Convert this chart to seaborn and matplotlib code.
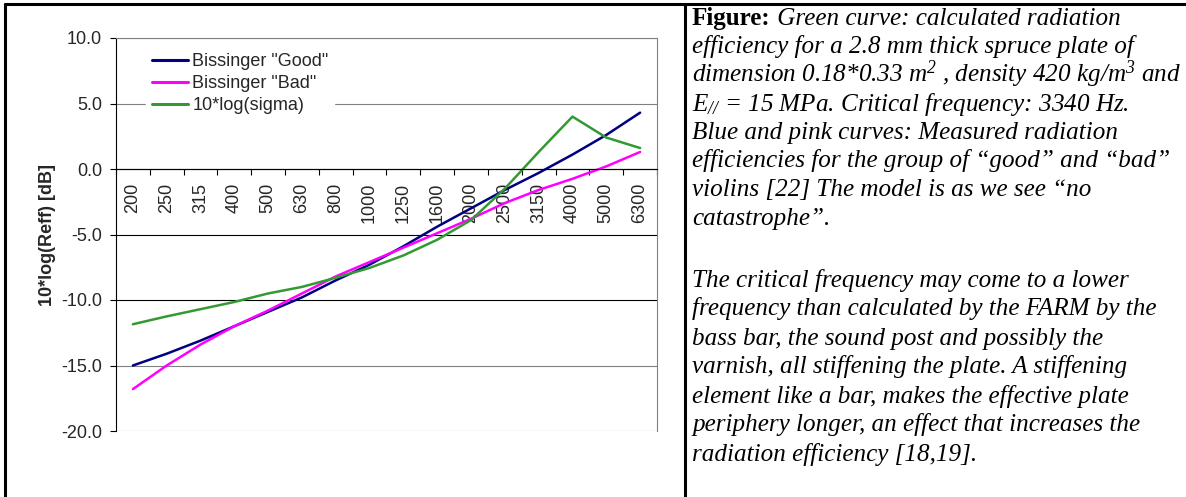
import numpy as np
import pandas as pd
import matplotlib
matplotlib.use("Agg")
import matplotlib.pyplot as plt
import seaborn as sns
from matplotlib.lines import Line2D
from matplotlib.ticker import FixedLocator

# ---------------- data ----------------
freqs = ["200", "250", "315", "400", "500", "630", "800", "1000", "1250",
         "1600", "2000", "2500", "3150", "4000", "5000", "6300"]
good = [-15.0, -14.1, -13.1, -12.0, -10.9, -9.8, -8.5, -7.3, -5.9,
        -4.4, -3.0, -1.6, -0.3, 1.1, 2.6, 4.3]
bad = [-16.8, -15.0, -13.4, -12.0, -10.8, -9.5, -8.2, -7.1, -6.0,
       -4.9, -3.8, -2.6, -1.6, -0.75, 0.2, 1.3]
sigma = [-11.85, -11.25, -10.7, -10.15, -9.5, -9.0, -8.3, -7.55, -6.6,
         -5.4, -3.9, -1.5, 1.3, 4.0, 2.4, 1.6]
series_names = ['Bissinger "Good"', 'Bissinger "Bad"', '10*log(sigma)']
series_colors = ["#000080", "#FF00FF", "#339933"]
y_ticks = [10, 5, 0, -5, -10, -15, -20]
y_label = "10*log(Reff) [dB]"

df = pd.DataFrame({
    "freq": freqs * 3,
    "value": good + bad + sigma,
    "series": [n for n in series_names for _ in freqs],
})

# ---------------- style ----------------
sns.set_theme(style="white")
plt.rcParams["font.family"] = ["Liberation Sans", "DejaVu Sans"]
plt.rcParams["mathtext.fontset"] = "custom"
plt.rcParams["mathtext.rm"] = "Liberation Serif:italic"
plt.rcParams["mathtext.it"] = "Liberation Serif:italic"
plt.rcParams["mathtext.bf"] = "Liberation Serif:bold"

W, H = 1186, 497
fig = plt.figure(figsize=(W / 100, H / 100), dpi=100)
fig.patch.set_facecolor("white")

ax = fig.add_axes([116 / W, 1 - 431 / H, 541 / W, 393 / H])
sns.lineplot(data=df, x="freq", y="value", hue="series", hue_order=series_names,
             palette=series_colors, sort=False, estimator=None, ax=ax,
             linewidth=1.8)

ax.set_xlim(-0.5, len(freqs) - 0.5)
ax.set_ylim(min(y_ticks), max(y_ticks))
ax.set_yticks(y_ticks)
ax.set_yticklabels([f"{v:.1f}" for v in y_ticks])
ax.set_xlabel("")
ax.set_ylabel(y_label, fontsize=13, fontweight="bold")
ax.yaxis.set_label_coords((56 - 116) / 541, 0.5)

# gridlines
ax.grid(True, axis="y", linewidth=0.8)
ax.set_axisbelow(True)
for val, gl in zip(ax.get_yticks(), ax.get_ygridlines()):
    if val in (-5, -10, 0):
        gl.set_color("black")
    else:
        gl.set_color("#808080")

# spines
for s in ("top", "right"):
    ax.spines[s].set_visible(True)
    ax.spines[s].set_color("#808080")
    ax.spines[s].set_linewidth(0.8)
ax.spines["left"].set_color("black")
ax.spines["left"].set_linewidth(0.8)
ax.spines["bottom"].set_position(("data", 0))
ax.spines["bottom"].set_color("black")
ax.spines["bottom"].set_linewidth(0.8)

# ticks
ax.tick_params(axis="y", which="major", direction="out", length=4, width=0.8,
               color="black", pad=6, labelsize=13, left=True)
ax.tick_params(axis="x", which="major", length=0, pad=10, labelsize=13,
               labelrotation=90, bottom=True)
ax.xaxis.set_minor_locator(FixedLocator(np.arange(-0.5, len(freqs), 1.0)))
ax.tick_params(axis="x", which="minor", direction="out", length=4, width=0.8,
               color="black", bottom=True)
for lbl in ax.get_xticklabels():
    lbl.set_va("top")

# legend
leg = ax.legend(loc="upper left", bbox_to_anchor=(0.056, 0.975), fontsize=13,
                frameon=True, fancybox=False, framealpha=1, facecolor="white",
                edgecolor="white", handlelength=2.0, handletextpad=0.25,
                labelspacing=0.28, borderpad=0.3, borderaxespad=0)
for h in leg.get_lines():
    h.set_linewidth(2.2)

# frame of the table cell layout
lw_frame = 2.2
fig.add_artist(Line2D([4.5 / W, 1], [1 - 3.8 / H, 1 - 3.8 / H], transform=fig.transFigure,
                      color="black", lw=lw_frame))
fig.add_artist(Line2D([4.5 / W, 4.5 / W], [0, 1 - 3.8 / H], transform=fig.transFigure,
                      color="black", lw=lw_frame))
fig.add_artist(Line2D([685 / W, 685 / W], [0, 1 - 3.8 / H], transform=fig.transFigure,
                      color="black", lw=lw_frame))

# ---------------- caption text ----------------
fig.canvas.draw()
renderer = fig.canvas.get_renderer()
serif = "Liberation Serif"
fs = 18.1
IT = dict(family=serif, style="italic", fontsize=fs)
BD = dict(family=serif, weight="bold", fontsize=fs)

para1 = [
    [("Figure:", BD), (" Green curve: calculated radiation", IT)],
    [("efficiency for a 2.8 mm thick spruce plate of", IT)],
    [("dimension 0.18*0.33 m$^{2}$ , density 420 kg/m$^{3}$ and", IT)],
    [("$E_{//}$ = 15 MPa. Critical frequency: 3340 Hz.", IT)],
    [("Blue and pink curves: Measured radiation", IT)],
    [("efficiencies for the group of \u201cgood\u201d and \u201cbad\u201d", IT)],
    [("violins [22] The model is as we see \u201cno", IT)],
    [("catastrophe\u201d.", IT)],
]
para2 = [
    [("The critical frequency may come to a lower", IT)],
    [("frequency than calculated by the FARM by the", IT)],
    [("bass bar, the sound post and possibly the", IT)],
    [("varnish, all stiffening the plate. A stiffening", IT)],
    [("element like a bar, makes the effective plate", IT)],
    [("periphery longer, an effect that increases the", IT)],
    [("radiation efficiency [18,19].", IT)],
]
x0_px = 692
inv = fig.transFigure.inverted()


def put_lines(lines, base, step):
    for i, segs in enumerate(lines):
        y = 1 - (base + step * i) / H
        x = x0_px / W
        for txt, kw in segs:
            t = fig.text(x, y, txt, ha="left", va="baseline", color="black", **kw)
            bb = t.get_window_extent(renderer=renderer)
            x = inv.transform((bb.x1, bb.y0))[0]


put_lines(para1, 25.0, 28.5)
put_lines(para2, 286.5, 29.0)

fig.savefig("out.png", dpi=100, facecolor="white")
